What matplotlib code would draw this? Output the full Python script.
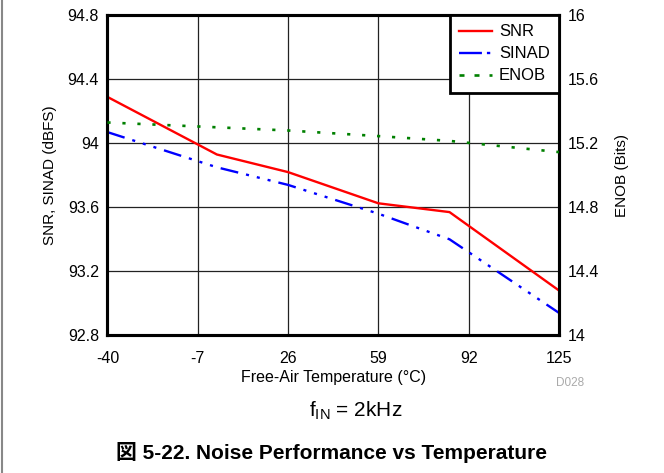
import matplotlib
matplotlib.use("Agg")
import matplotlib.pyplot as plt
from matplotlib.lines import Line2D

plt.rcParams['font.family'] = ['Liberation Sans', 'Noto Sans CJK JP', 'DejaVu Sans']
plt.rcParams['mathtext.fontset'] = 'custom'
plt.rcParams['mathtext.rm'] = 'Liberation Sans'
plt.rcParams['mathtext.it'] = 'Liberation Sans'
plt.rcParams['lines.scale_dashes'] = False

# Data
temps = [-40, 0, 26, 59, 85, 125]
snr = [94.29, 93.93, 93.82, 93.625, 93.57, 93.08]
sinad = [94.07, 93.85, 93.74, 93.56, 93.40, 92.94]
enob = [15.33, 15.30, 15.28, 15.245, 15.215, 15.145]
xticks = [-40, -7, 26, 59, 92, 125]
yticks_left = [92.8, 93.2, 93.6, 94, 94.4, 94.8]
ylabels_left = ['92.8', '93.2', '93.6', '94', '94.4', '94.8']
yticks_right = [14, 14.4, 14.8, 15.2, 15.6, 16]
ylabels_right = ['14', '14.4', '14.8', '15.2', '15.6', '16']

fig = plt.figure(figsize=(6.64, 4.73), dpi=100)
ax = fig.add_axes([107.4/664, 1-335.3/473, (559-107.4)/664, (335.3-15.3)/473])
ax2 = ax.twinx()

sinad_dash = (0, (13, 5.8, 2.2, 5.8, 2.2, 5.8, 2.2, 5.8))
enob_dash = (0, (2.3, 8.5))

ax.plot(temps, snr, color='#ff0000', lw=1.7, solid_capstyle='butt', zorder=3)
ax.plot(temps, sinad, color='#0000ff', lw=1.7, linestyle=sinad_dash, dash_capstyle='butt', zorder=3)
ax2.plot(temps, enob, color='#008000', lw=1.9, linestyle=enob_dash, dash_capstyle='butt', zorder=3)

ax.set_xlim(-40, 125)
ax.set_ylim(92.8, 94.8)
ax2.set_ylim(14, 16)
ax.set_xticks(xticks)
ax.set_xticklabels([str(t) for t in xticks])
ax.set_yticks(yticks_left)
ax.set_yticklabels(ylabels_left)
ax2.set_yticks(yticks_right)
ax2.set_yticklabels(ylabels_right)

ax.grid(True, color='#222222', lw=0.9)
ax.set_axisbelow(True)
for a in (ax, ax2):
    a.tick_params(axis='y', length=0, labelsize=11.5, pad=6, colors='black')
    for s in a.spines.values():
        s.set_linewidth(2.2)
        s.set_color('black')
ax.tick_params(axis='x', length=0, labelsize=11.5, pad=11, colors='black')

ax.set_ylabel('SNR, SINAD (dBFS)', fontsize=11, labelpad=8)
ax2.set_ylabel('ENOB (Bits)', fontsize=11, labelpad=12)
ax.set_xlabel('Free-Air Temperature (°C)', fontsize=11.5, labelpad=3)

handles = [Line2D([], [], color='#ff0000', lw=1.7),
           Line2D([], [], color='#0000ff', lw=1.7, linestyle=(0, (16.5, 3.6, 2.4, 6))),
           Line2D([], [], color='#008000', lw=1.9, linestyle=(0, (3.6, 7.2)))]
leg = ax2.legend(handles, ['SNR', 'SINAD', 'ENOB'], loc='upper right', fontsize=12,
                 frameon=True, fancybox=False, borderaxespad=0, handlelength=1.95,
                 handletextpad=0.45, labelspacing=0.42, borderpad=0.55)
leg.get_frame().set_edgecolor('black')
leg.get_frame().set_linewidth(2.0)
leg.get_frame().set_alpha(1)

fig.text(584/664, 1-383/473, 'D028', fontsize=8.5, color='#aaaaaa', ha='right', va='center')
fig.text(356/664, 1-411/473, r'$\mathrm{f}_{\mathrm{IN}}$ = 2kHz', fontsize=15, ha='center', va='center')
fig.text(332/664, 1-452/473, '図 5-22. Noise Performance vs Temperature', fontsize=15,
         fontweight='bold', ha='center', va='center')

fig.add_artist(Line2D([1.5/664, 1.5/664], [0, 1], color='#888888', lw=1.5, transform=fig.transFigure))

fig.savefig('out.png', dpi=100)
